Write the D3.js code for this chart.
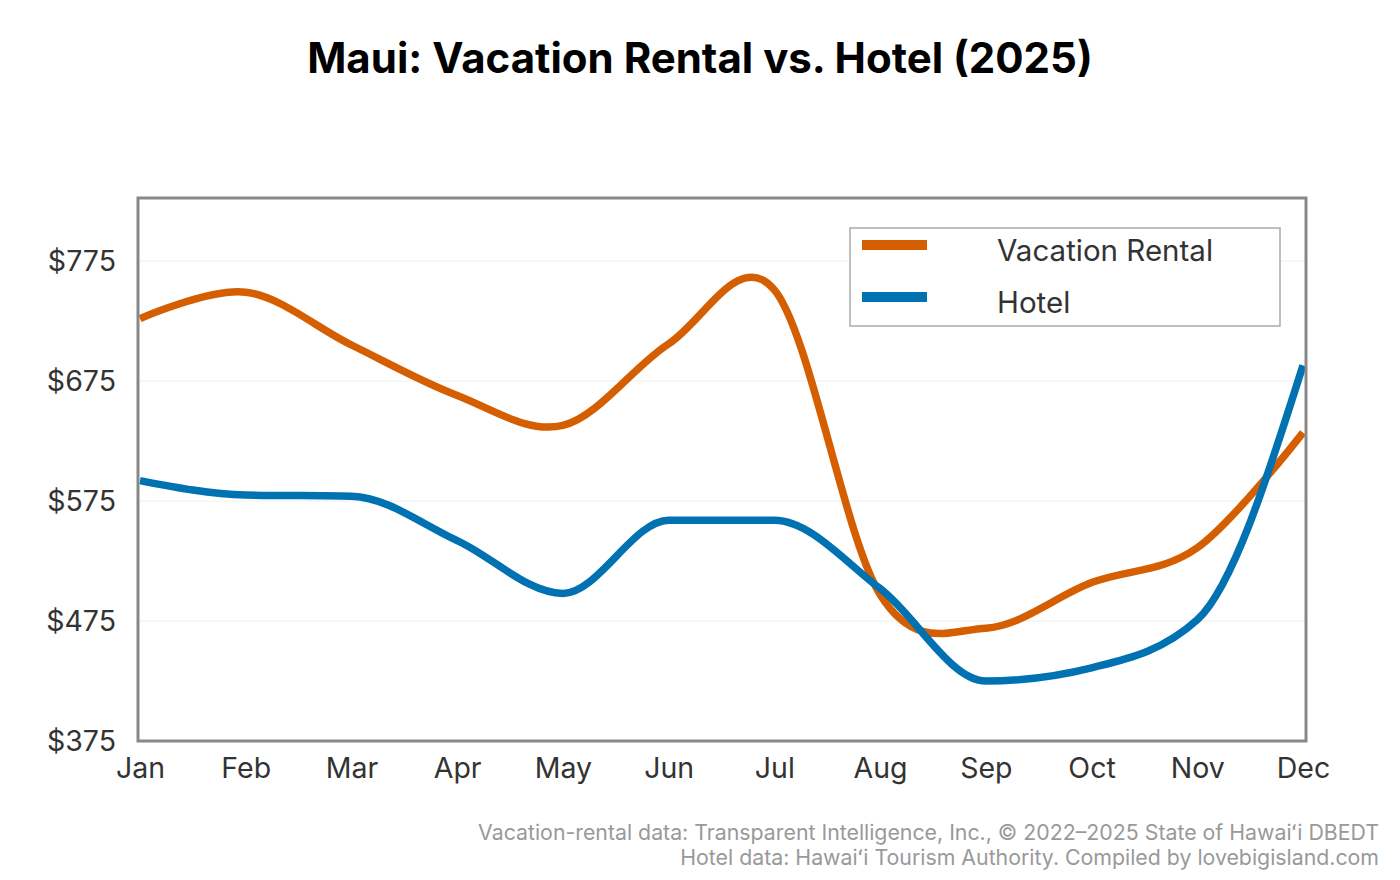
<!DOCTYPE html>
<html lang="en">
<head>
<meta charset="UTF-8">
<title>Maui: Vacation Rental vs. Hotel (2025)</title>
<style>
  html, body { margin: 0; padding: 0; background: #fff; }
  svg { display: block; font-family: Inter, "Noto Sans", sans-serif; }
</style>
</head>
<body>
<svg id="chart" width="1400" height="880"></svg>
<script src="https://d3js.org/d3.v7.min.js"></script>
<script>
  // data
  const months = ["Jan", "Feb", "Mar", "Apr", "May", "Jun", "Jul", "Aug", "Sep", "Oct", "Nov", "Dec"];
  const vacationRental = [727, 749, 705, 663, 638, 706, 751, 497, 469, 507, 536, 632];
  const hotel = [592, 580, 579, 542, 498, 559, 559, 502, 425, 436, 476, 688];
  const yTicks = [375, 475, 575, 675, 775];

  const svg = d3.select('#chart');

  // plot frame
  const plotLeft = 138, plotRight = 1306, plotTop = 198, plotBottom = 741;

  const x = d3.scalePoint()
    .domain(months)
    .range([140, 1303]);

  const y = d3.scaleLinear()
    .domain([375, 827.5])
    .range([plotBottom, plotTop]);

  // title
  svg.append('text')
    .attr('x', 700)
    .attr('y', 73)
    .attr('text-anchor', 'middle')
    .style('font-size', '42px')
    .style('font-weight', 700)
    .attr('fill', '#000')
    .text('Maui: Vacation Rental vs. Hotel (2025)');

  // grid
  svg.append('g')
    .selectAll('line')
    .data(yTicks)
    .join('line')
    .attr('x1', plotLeft)
    .attr('x2', plotRight)
    .attr('y1', d => y(d))
    .attr('y2', d => y(d))
    .attr('stroke', '#f0f0f0')
    .attr('stroke-width', 1);

  // axes (labels only, no tick marks)
  const yAxis = svg.append('g')
    .attr('transform', `translate(${plotLeft},0)`)
    .call(d3.axisLeft(y).tickValues(yTicks).tickFormat(d => '$' + d).tickSize(0).tickPadding(22));
  yAxis.select('.domain').remove();
  yAxis.selectAll('text')
    .style('font-size', '28.5px')
    .style('font-family', 'Inter, "Noto Sans", sans-serif')
    .attr('fill', '#333');

  const xAxis = svg.append('g')
    .attr('transform', `translate(0,${plotBottom})`)
    .call(d3.axisBottom(x).tickSize(0).tickPadding(17));
  xAxis.select('.domain').remove();
  xAxis.selectAll('text')
    .style('font-size', '28.5px')
    .style('font-family', 'Inter, "Noto Sans", sans-serif')
    .attr('fill', '#333');

  // lines
  const vrLine = d3.line()
    .x((d, i) => x(months[i]))
    .y(d => y(d))
    .curve(d3.curveCardinal.tension(0));

  const hotelLine = d3.line()
    .x((d, i) => x(months[i]))
    .y(d => y(d))
    .curve(d3.curveMonotoneX);

  svg.append('path')
    .attr('d', vrLine(vacationRental))
    .attr('fill', 'none')
    .attr('stroke', '#D55E00')
    .attr('stroke-width', 7.5);

  svg.append('path')
    .attr('d', hotelLine(hotel))
    .attr('fill', 'none')
    .attr('stroke', '#0072B2')
    .attr('stroke-width', 7.5);

  // frame on top
  svg.append('rect')
    .attr('x', plotLeft)
    .attr('y', plotTop)
    .attr('width', plotRight - plotLeft)
    .attr('height', plotBottom - plotTop)
    .attr('fill', 'none')
    .attr('stroke', '#888')
    .attr('stroke-width', 3);

  // legend
  const legend = svg.append('g');
  legend.append('rect')
    .attr('x', 850)
    .attr('y', 228)
    .attr('width', 430)
    .attr('height', 98)
    .attr('fill', '#fff')
    .attr('stroke', '#aaa')
    .attr('stroke-width', 1.5);

  const items = [
    { name: 'Vacation Rental', color: '#D55E00', y: 245 },
    { name: 'Hotel', color: '#0072B2', y: 297 }
  ];
  items.forEach(it => {
    legend.append('line')
      .attr('x1', 862)
      .attr('x2', 927)
      .attr('y1', it.y)
      .attr('y2', it.y)
      .attr('stroke', it.color)
      .attr('stroke-width', 10);
    legend.append('text')
      .attr('x', 997)
      .attr('y', it.y + 16)
      .style('font-size', '29.5px')
      .attr('fill', '#333')
      .text(it.name);
  });

  // source notes
  const notes = [
    'Vacation-rental data: Transparent Intelligence, Inc., © 2022–2025 State of Hawaiʻi DBEDT',
    'Hotel data: Hawaiʻi Tourism Authority. Compiled by lovebigisland.com'
  ];
  svg.append('g')
    .selectAll('text')
    .data(notes)
    .join('text')
    .attr('x', 1379)
    .attr('y', (d, i) => 840 + i * 25)
    .attr('text-anchor', 'end')
    .style('font-size', '21.3px')
    .attr('fill', '#999')
    .text(d => d);
</script>
</body>
</html>
